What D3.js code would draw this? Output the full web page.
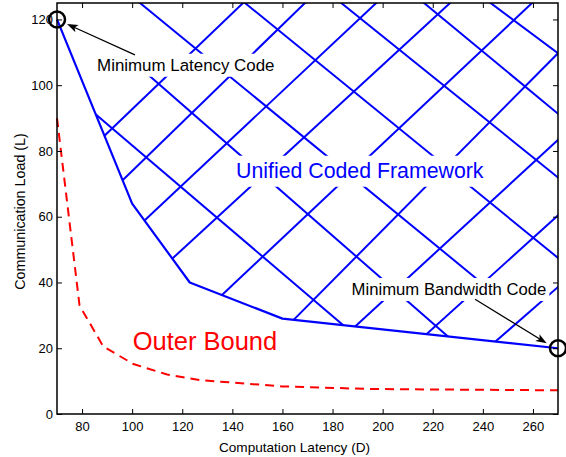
<!DOCTYPE html>
<html>
<head>
<meta charset="utf-8">
<script src="https://cdn.jsdelivr.net/npm/d3@7"></script>
<style>
  body { margin: 0; background: #fff; }
  svg { display: block; font-family: "Liberation Sans", Arial, Helvetica, sans-serif; }
</style>
</head>
<body>
<svg id="chart" width="566" height="457"></svg>
<script>
"use strict";

// lower edge of the unified coded framework region (D, L)
var frameworkD = [70, 100, 123, 160, 270];
var frameworkL = [120, 64, 40, 29, 20];

// outer bound, dashed red
var boundD = [70, 79, 88.5, 100.5, 114, 127, 160, 195, 270];
var boundL = [90, 33, 20.5, 15.2, 12, 10.3, 8.4, 7.6, 7.2];

var xTicks = [80, 100, 120, 140, 160, 180, 200, 220, 240, 260];
var yTicks = [0, 20, 40, 60, 80, 100, 120];

// hatch strokes inside the region [D1, L1, D2, L2]
var hatchLines = [
  [79.2, 95.2, 198.9, 17.5],
  [103.1, 105.4, 234.9, 17.7],
  [101.7, 125.9, 238.7, 40.4],
  [143.6, 125.9, 274.8, 44.5],
  [182.0, 125.9, 274.8, 69.0],
  [215.1, 125.9, 274.8, 88.3],
  [241.5, 125.9, 274.8, 107.0],
  [85.2, 81.9, 145.5, 125.9],
  [92.4, 68.3, 170.2, 125.9],
  [101.1, 56.1, 198.7, 125.9],
  [111.1, 43.8, 228.2, 125.9],
  [131.1, 32.8, 260.9, 125.9],
  [160.9, 25.9, 274.8, 113.4],
  [184.9, 23.75, 274.8, 86.7],
  [213.6, 21.6, 274.8, 63.7],
  [240.9, 19.3, 274.8, 41.8]
];

// the two marked end points of the framework
var codePoints = [[70, 120], [270, 20]];

var width = 566, height = 457;
var margin = {top: 3, right: 8, bottom: 43, left: 57};
var plotW = width - margin.left - margin.right;
var plotH = height - margin.top - margin.bottom;

var svg = d3.select("#chart");
var g = svg.append("g").attr("transform", "translate(" + margin.left + "," + margin.top + ")");

var x = d3.scaleLinear().domain([70, 270]).range([0, plotW]);
var y = d3.scaleLinear().domain([0, 125]).range([plotH, 0]);

var line = d3.line().x(function (d) { return x(d[0]); }).y(function (d) { return y(d[1]); });

var frameworkPts = frameworkD.map(function (d, i) { return [d, frameworkL[i]]; });
var boundPts = boundD.map(function (d, i) { return [d, boundL[i]]; });

// hatching is clipped to the area above the framework curve
g.append("clipPath").attr("id", "region-clip")
  .append("path")
  .attr("d", line(frameworkPts.concat([[270, 125], [70, 125]])) + "Z");

g.append("g")
  .attr("clip-path", "url(#region-clip)")
  .selectAll("line")
  .data(hatchLines)
  .enter()
  .append("line")
  .attr("x1", function (d) { return x(d[0]); })
  .attr("y1", function (d) { return y(d[1]); })
  .attr("x2", function (d) { return x(d[2]); })
  .attr("y2", function (d) { return y(d[3]); })
  .attr("stroke", "#0000ff")
  .attr("stroke-width", 2);

g.append("path")
  .attr("d", line(frameworkPts))
  .attr("fill", "none")
  .attr("stroke", "#0000ff")
  .attr("stroke-width", 2.2)
  .attr("stroke-linejoin", "round");

g.append("path")
  .attr("d", line(boundPts))
  .attr("fill", "none")
  .attr("stroke", "#ff0000")
  .attr("stroke-width", 2)
  .attr("stroke-dasharray", "9,6");

// text labels; the ones over the hatch get a white box like matlab's BackgroundColor
var labels = [
  {text: "Minimum Latency Code", d: 86, l: 104.4, size: 16.9, color: "#000", pad: 2},
  {text: "Unified Coded Framework", d: 141.5, l: 71.7, size: 21.3, color: "#0000ff", pad: 3.5},
  {text: "Minimum Bandwidth Code", d: 187.6, l: 36.2, size: 16.7, color: "#000", pad: 2},
  {text: "Outer Bound", d: 100.2, l: 19.5, size: 25.5, color: "#ff0000", pad: 0}
];

labels.forEach(function (lb) {
  var box = g.append("rect").attr("fill", "#fff");
  var t = g.append("text")
    .attr("x", x(lb.d))
    .attr("y", y(lb.l))
    .attr("fill", lb.color)
    .style("font-size", lb.size + "px")
    .text(lb.text);
  var bb = t.node().getBBox();
  box.attr("x", bb.x - lb.pad - 1)
    .attr("y", bb.y - lb.pad)
    .attr("width", bb.width + 2 * lb.pad + 2)
    .attr("height", bb.height + 2 * lb.pad);
});

// annotation arrows, tail -> head in data units
var arrows = [
  {from: [101.1, 109.2], to: [74.0, 118.6]},
  {from: [236.9, 34.9], to: [265.5, 21.5]}
];

arrows.forEach(function (a) {
  var x1 = x(a.from[0]), y1 = y(a.from[1]), x2 = x(a.to[0]), y2 = y(a.to[1]);
  var ang = Math.atan2(y2 - y1, x2 - x1);
  var len = 11, half = 4;
  var cos = Math.cos(ang), sin = Math.sin(ang);
  function pt(back, side) {
    return [x2 - back * cos - side * sin, y2 - back * sin + side * cos];
  }
  g.append("line")
    .attr("x1", x1).attr("y1", y1)
    .attr("x2", pt(len * 0.7, 0)[0]).attr("y2", pt(len * 0.7, 0)[1])
    .attr("stroke", "#000")
    .attr("stroke-width", 1.3);
  g.append("path")
    .attr("d", "M" + [x2, y2] + "L" + pt(len, half) + "L" + pt(len * 0.75, 0) + "L" + pt(len, -half) + "Z")
    .attr("fill", "#000");
});

g.selectAll("circle.code-point")
  .data(codePoints)
  .enter()
  .append("circle")
  .attr("class", "code-point")
  .attr("cx", function (d) { return x(d[0]); })
  .attr("cy", function (d) { return y(d[1]); })
  .attr("r", 8)
  .attr("fill", "none")
  .attr("stroke", "#000")
  .attr("stroke-width", 2.5);

// axes: inward ticks on all four sides, box drawn separately
function styleAxis(sel) {
  sel.select(".domain").remove();
  sel.selectAll(".tick line").attr("stroke", "#000").attr("stroke-width", 1);
  sel.selectAll(".tick text")
    .attr("fill", "#000")
    .style("font-size", "13px")
    .style("font-family", "\"Liberation Sans\", Arial, sans-serif");
}

g.append("g")
  .attr("transform", "translate(0," + plotH + ")")
  .call(d3.axisBottom(x).tickValues(xTicks).tickSize(-5).tickPadding(8))
  .call(styleAxis);

g.append("g")
  .call(d3.axisTop(x).tickValues(xTicks).tickSize(-5).tickFormat(""))
  .call(styleAxis);

g.append("g")
  .call(d3.axisLeft(y).tickValues(yTicks).tickSize(-5).tickPadding(4))
  .call(styleAxis);

g.append("g")
  .attr("transform", "translate(" + plotW + ",0)")
  .call(d3.axisRight(y).tickValues(yTicks).tickSize(-5).tickFormat(""))
  .call(styleAxis);

g.append("rect")
  .attr("width", plotW)
  .attr("height", plotH)
  .attr("fill", "none")
  .attr("stroke", "#000")
  .attr("stroke-width", 1.5);

g.append("text")
  .attr("x", plotW / 2 - 13)
  .attr("y", plotH + 38)
  .attr("text-anchor", "middle")
  .style("font-size", "13.6px")
  .text("Computation Latency (D)");

g.append("text")
  .attr("transform", "translate(" + (-32) + "," + (plotH / 2 + 3) + ") rotate(-90)")
  .attr("text-anchor", "middle")
  .style("font-size", "14.3px")
  .text("Communication Load (L)");
</script>
</body>
</html>
